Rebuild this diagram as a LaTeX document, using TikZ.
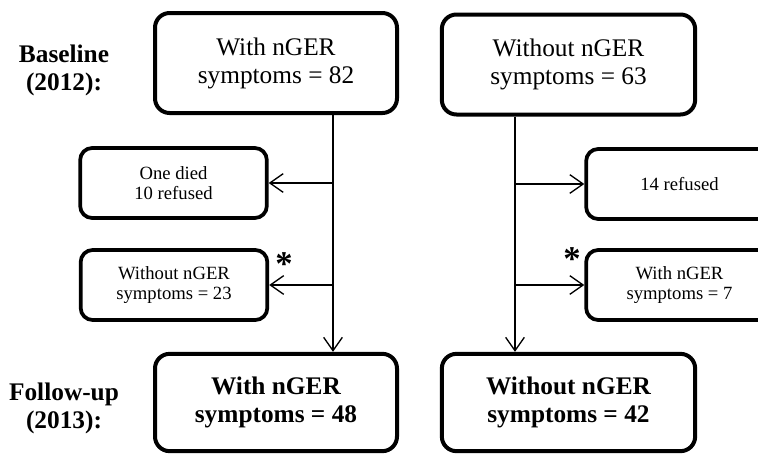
\documentclass[tikz,border=0pt]{standalone}
\usepackage{fontspec}
\setmainfont{Liberation Serif}
\usetikzlibrary{arrows.meta,positioning}

\begin{document}
\begin{tikzpicture}[
    x=0.75pt, y=-0.75pt,
    >={Straight Barb[length=10pt,width=14pt]},
    group/.style={
        rectangle, draw, line width=3pt, rounded corners=11pt,
        minimum width=181.5pt, minimum height=75pt, align=center,
        font=\fontsize{19}{21}\selectfont
    },
    result/.style={
        group, minimum height=73pt,
        font=\fontsize{19}{21}\selectfont\bfseries
    },
    lost/.style={
        rectangle, draw, line width=2.8pt, rounded corners=9pt,
        minimum width=140pt, minimum height=52.5pt, align=center,
        font=\fontsize{14}{14.5}\selectfont
    },
    period/.style={
        align=center, font=\fontsize{19}{21}\selectfont\bfseries
    },
    flow/.style={
        ->, line width=1pt, draw=black
    },
    star/.style={
        font=\fontsize{26}{26}\selectfont\bfseries, inner sep=0pt
    }
]
\clip (0,0) rectangle (758,455);

% Groups at baseline and follow-up
\node[group] (base_with) at (276,63) {With nGER\\symptoms = 82};
\node[group, minimum width=190pt] (base_without) at (568.5,64.5)
    {Without nGER\\symptoms = 63};
\node[result] (fu_with) at (276,402.5) {With nGER\\symptoms = 48};
\node[result, minimum width=190pt] (fu_without) at (568.5,402.5)
    {Without nGER\\symptoms = 42};

% Period labels
\node[period] (base_lbl) at (64,70)  {Baseline\\(2012):};
\node[period] (fu_lbl)   at (64,408) {Follow-up\\(2013):};

% Losses and changes
\node[lost] (died)       at (173.5,183) {One died\\10 refused};
\node[lost] (to_without) at (174,285)   {Without nGER\\symptoms = 23};
\node[lost] (refused)    at (679.5,184) {14 refused};
\node[lost] (to_with)    at (679.5,285) {With nGER\\symptoms = 7};

\node[star] (star_l) at (284,264) {*};
\node[star] (star_r) at (572,259) {*};

% Trunks
\coordinate (ltrunk) at (333,0);
\coordinate (rtrunk) at (515,0);

\draw[flow] (base_with.south -| ltrunk) -- (fu_with.north -| ltrunk);
\draw[flow] (died.east -| ltrunk) -- (died.east);
\draw[flow] (to_without.east -| ltrunk) -- (to_without.east);

\draw[flow] (base_without.south -| rtrunk) -- (fu_without.north -| rtrunk);
\draw[flow] (refused.west -| rtrunk) -- (refused.west);
\draw[flow] (to_with.west -| rtrunk) -- (to_with.west);

\end{tikzpicture}
\end{document}
